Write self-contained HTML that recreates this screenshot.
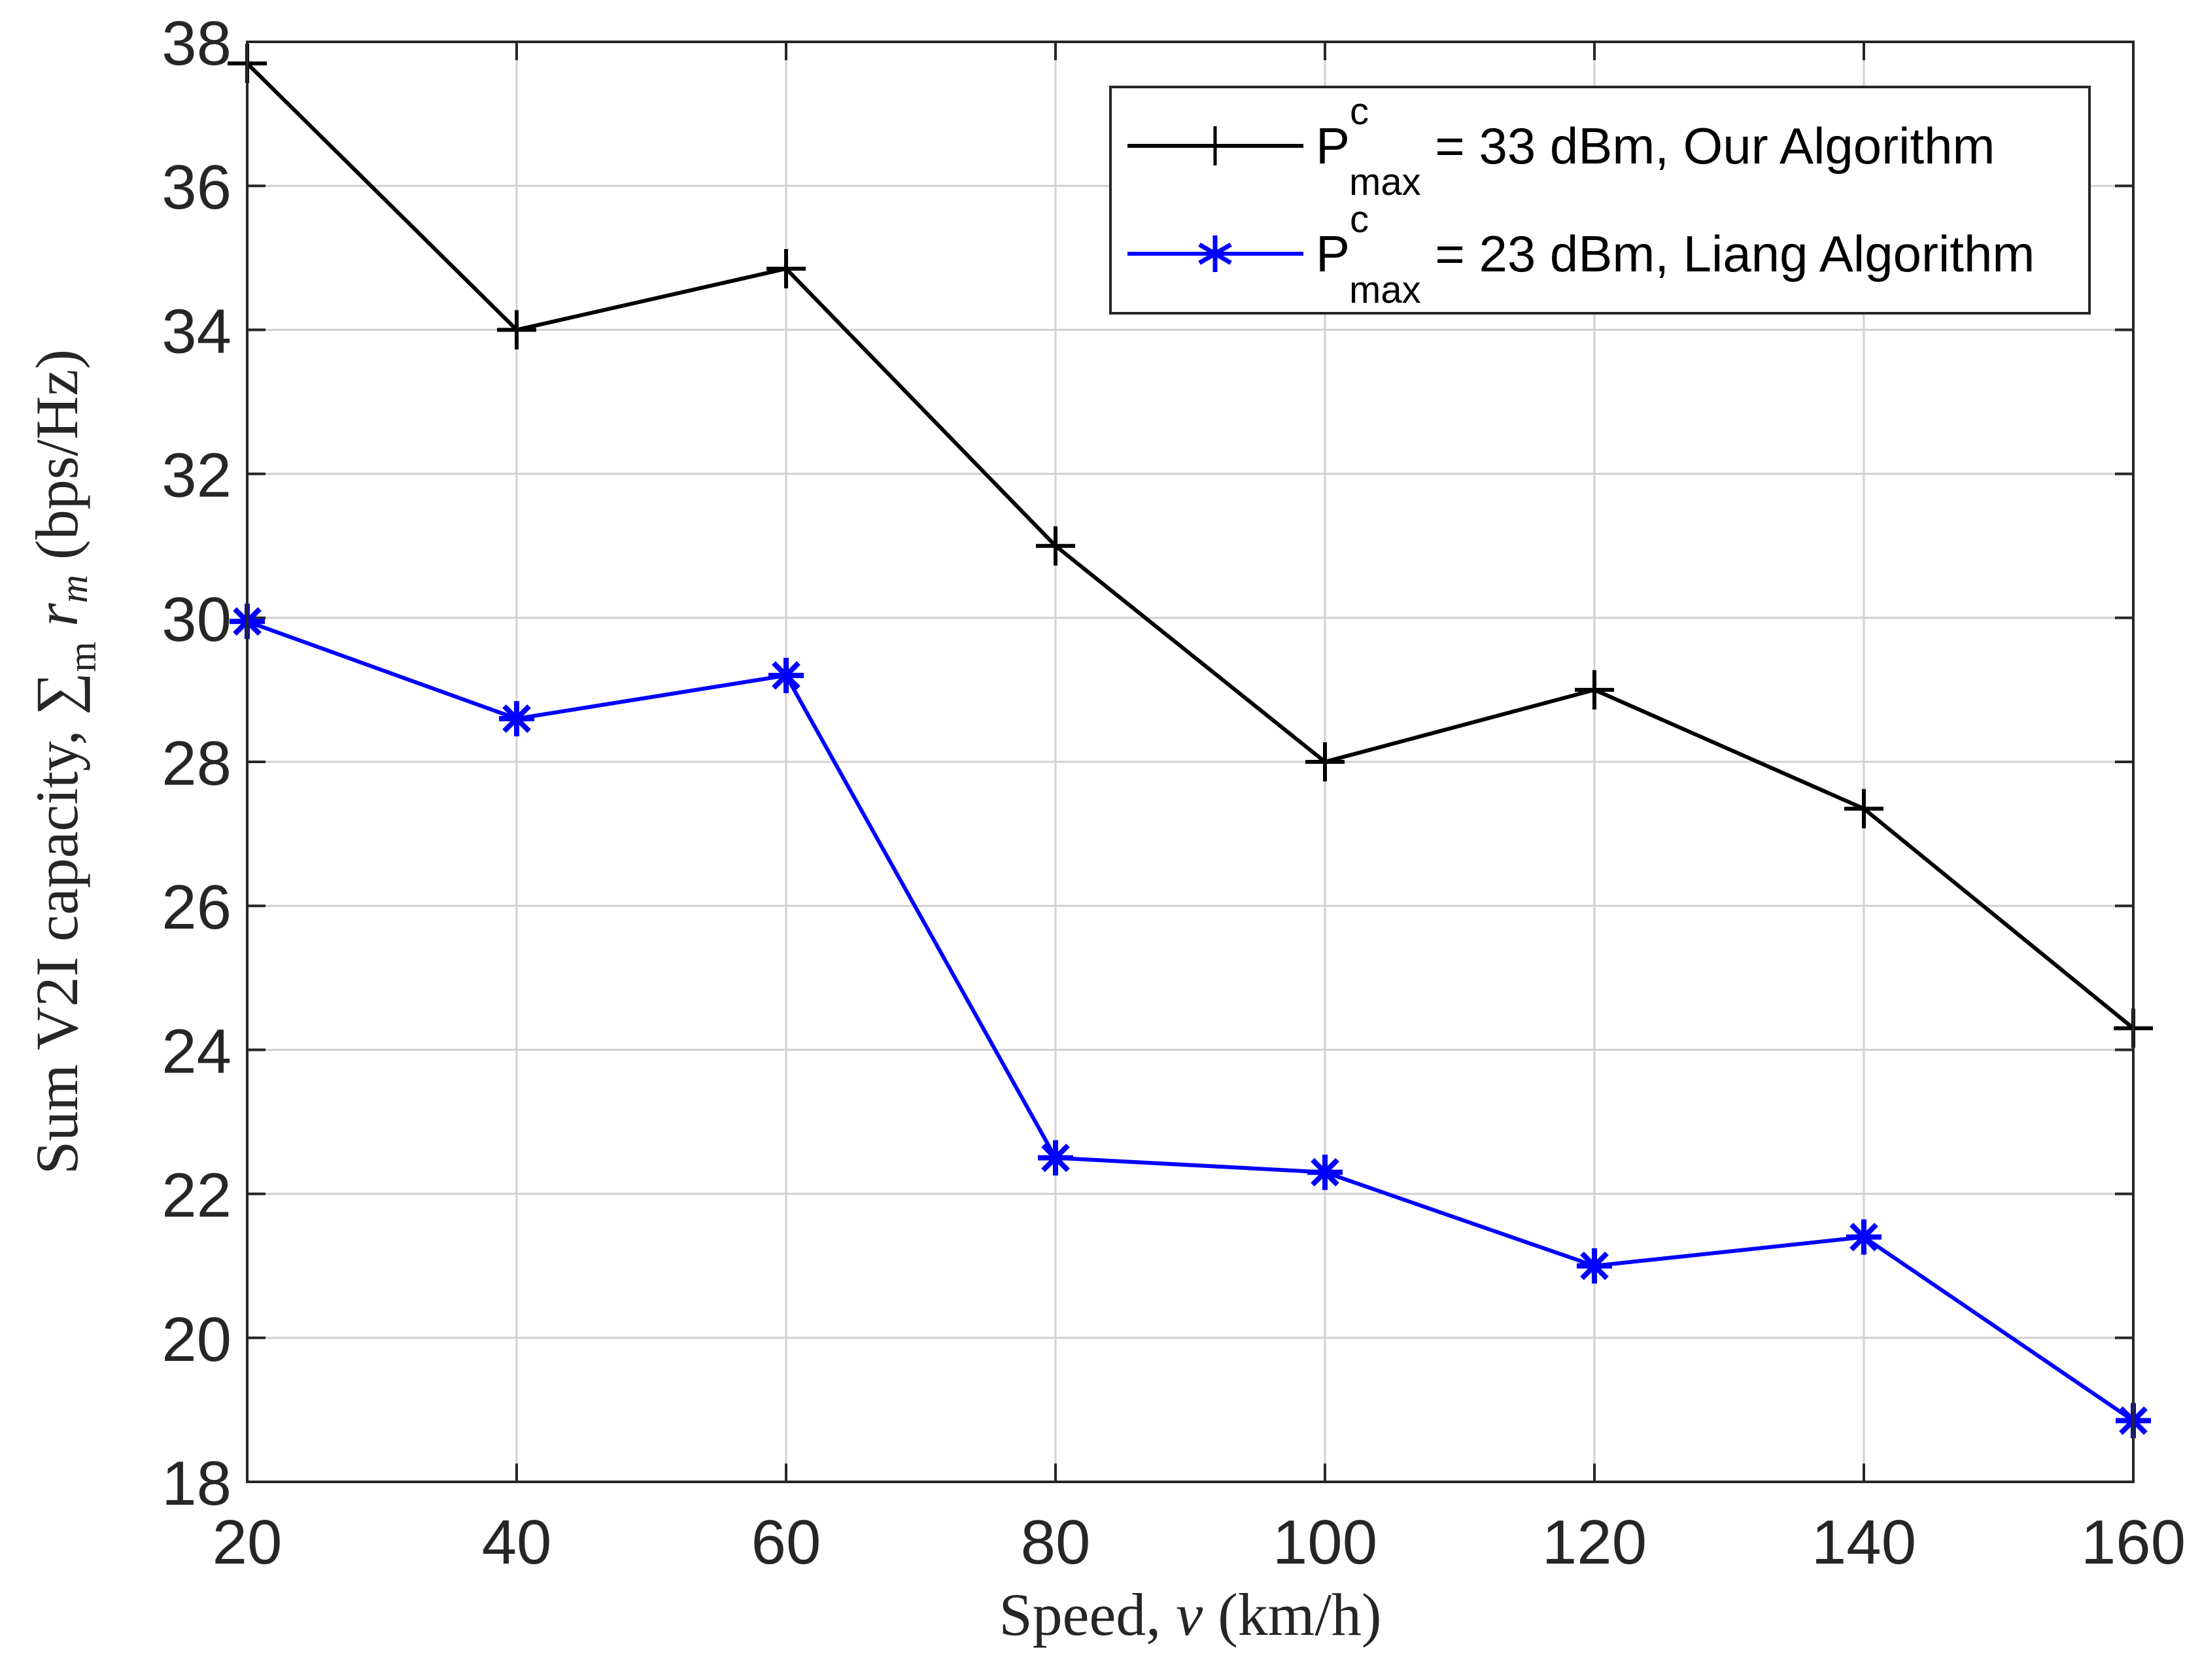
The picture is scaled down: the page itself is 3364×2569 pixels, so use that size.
<!DOCTYPE html>
<html><head><meta charset="utf-8"><style>
html,body{margin:0;padding:0;background:#fff;}
svg{display:block;}
.tick{font-family:"Liberation Sans",sans-serif;font-size:96px;fill:#262626;}
.lab{font-family:"Liberation Serif",serif;font-size:92px;fill:#262626;}
.leg{font-family:"Liberation Sans",sans-serif;font-size:78px;fill:#000;}
.sub{font-family:"Liberation Sans",sans-serif;font-size:58px;fill:#000;}
</style></head><body>
<svg id="chart" width="3364" height="2569" viewBox="0 0 3364 2569" xmlns="http://www.w3.org/2000/svg">
<rect x="0" y="0" width="3364" height="2569" fill="#fff"/>
<g id="grid"></g>
<g id="ticks"></g>
<g id="series"></g>
<rect x="378" y="64" width="2884" height="2202" fill="none" stroke="#262626" stroke-width="4"/>
<text class="lab" x="1820" y="2500" text-anchor="middle">Speed, <tspan font-style="italic">v</tspan> (km/h)</text>
<text class="lab" transform="translate(118,1165) rotate(-90)" text-anchor="middle">Sum V2I capacity, ∑<tspan font-size="60" dy="28">m</tspan><tspan dy="-28"> </tspan><tspan font-style="italic">r</tspan><tspan font-style="italic" font-size="60" dy="15">m</tspan><tspan dy="-15">  (bps/Hz)</tspan></text>
<g>
<rect x="1698" y="133" width="1497" height="346" fill="#fff" stroke="#262626" stroke-width="4"/>
<g>
<line x1="1724" y1="223" x2="1993" y2="223" stroke="#000" stroke-width="6"/>
<path d="M1858 193 V253 M1826 223 H1890" stroke="#000" stroke-width="5"/>
<text class="leg" x="2012" y="250">P<tspan class="sub" dy="-60">c</tspan><tspan class="sub" dx="-30" dy="108">max</tspan><tspan dy="-48"> = 33 dBm, Our Algorithm</tspan></text>
</g>
<g>
<line x1="1724" y1="388" x2="1993" y2="388" stroke="#0000ff" stroke-width="6"/>
<path d="M1858 360 V416 M1834 374 L1882 402 M1834 402 L1882 374" stroke="#0000ff" stroke-width="7"/>
<text class="leg" x="2012" y="415">P<tspan class="sub" dy="-60">c</tspan><tspan class="sub" dx="-30" dy="108">max</tspan><tspan dy="-48"> = 23 dBm, Liang Algorithm</tspan></text>
</g>
</g>
</svg>
<script>
const xCats = [20, 40, 60, 80, 100, 120, 140, 160];
const ourValues = [37.7, 34.0, 34.85, 31.0, 28.0, 29.0, 27.35, 24.3];
const liangValues = [29.95, 28.6, 29.2, 22.5, 22.3, 21.0, 21.4, 18.85];
const yTicks = [18, 20, 22, 24, 26, 28, 30, 32, 34, 36, 38];
const xTicks = [20, 40, 60, 80, 100, 120, 140, 160];

const X0=378, X1=3262, Y0=2266, Y1=64;
const xs = v => X0 + (v-20)/(160-20)*(X1-X0);
const ys = v => Y0 - (v-18)/(38-18)*(Y0-Y1);
const NS="http://www.w3.org/2000/svg";
function mk(tag, attrs, parent){const e=document.createElementNS(NS,tag);for(const k in attrs)e.setAttribute(k,attrs[k]);parent.appendChild(e);return e;}
const grid=document.getElementById('grid'), ticks=document.getElementById('ticks'), series=document.getElementById('series');

xTicks.forEach(t=>{
  const x=xs(t);
  const g=mk('line',{x1:x,y1:Y1,x2:x,y2:Y0,stroke:'#d0d0d0','stroke-width':3},grid);
  
  
  const tk=mk('path',{d:`M${x} ${Y0} V${Y0-28} M${x} ${Y1} V${Y1+28}`,stroke:'#262626','stroke-width':4},ticks);
  
  
  const tl=mk('text',{x:x,y:Y0+125,'text-anchor':'middle',class:'tick'},ticks);
  tl.textContent=t;
  
  
});
yTicks.forEach(t=>{
  const y=ys(t);
  const g=mk('line',{x1:X0,y1:y,x2:X1,y2:y,stroke:'#d0d0d0','stroke-width':3},grid);
  
  
  const tk=mk('path',{d:`M${X0} ${y} H${X0+28} M${X1} ${y} H${X1-28}`,stroke:'#262626','stroke-width':4},ticks);
  
  
  const tl=mk('text',{x:X0-24,y:y+35,'text-anchor':'end',class:'tick'},ticks);
  tl.textContent=t;
  
  
});

function drawSeries(vals,color,name,marker){
  const pts=vals.map((v,i)=>xs(xCats[i])+','+ys(v)).join(' ');
  const pl=mk('polyline',{points:pts,fill:'none',stroke:color,'stroke-width':6,'stroke-linejoin':'round'},series);
  
  
  vals.forEach((v,i)=>{
    const x=xs(xCats[i]), y=ys(v);
    let d;
    if(marker==='plus') d=`M${x} ${y-30} V${y+30} M${x-30} ${y} H${x+30}`;
    else d=`M${x} ${y-27} V${y+27} M${x-27} ${y} H${x+27} M${x-19} ${y-19} L${x+19} ${y+19} M${x-19} ${y+19} L${x+19} ${y-19}`;
    const m=mk('path',{d:d,stroke:color,'stroke-width':marker==='plus'?6:8},series);
    
    
  });
}
drawSeries(ourValues,'#000','our-algorithm','plus');
drawSeries(liangValues,'#0000ff','liang-algorithm','star');
</script>
</body></html>
